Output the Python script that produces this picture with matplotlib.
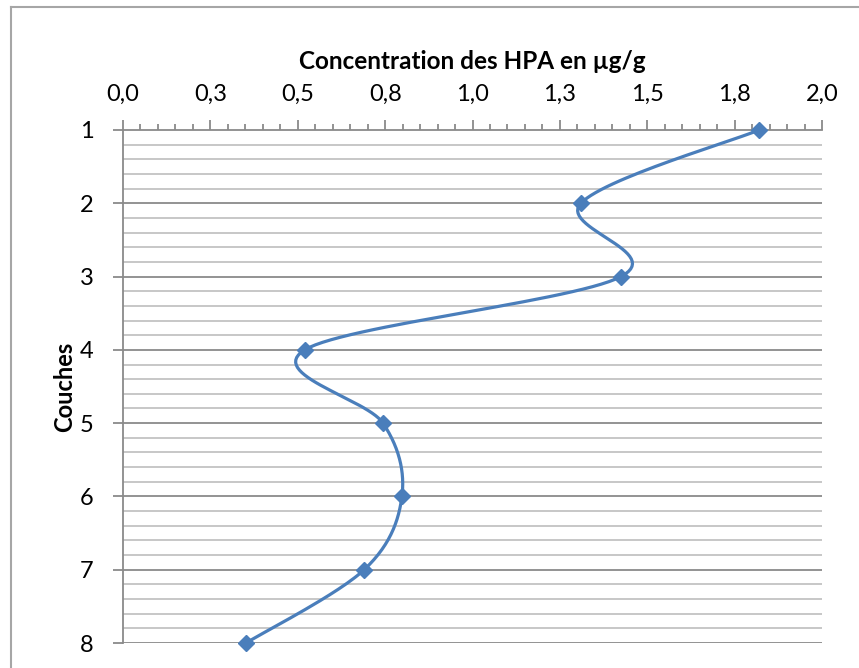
import matplotlib.pyplot as plt
import numpy as np
from matplotlib.lines import Line2D

plt.rcParams['font.family'] = ['Lato', 'DejaVu Sans']

# data
couches = [1, 2, 3, 4, 5, 6, 7, 8]
hpa = [1.82, 1.31, 1.425, 0.52, 0.744, 0.798, 0.69, 0.352]
xticks = [0.0, 0.25, 0.5, 0.75, 1.0, 1.25, 1.5, 1.75, 2.0]
xlabels = ['0,0', '0,3', '0,5', '0,8', '1,0', '1,3', '1,5', '1,8', '2,0']

blue = '#4a7ebb'


def smooth(xs, ys, n=30):
    # Excel-like smoothed line (Catmull-Rom as cubic bezier)
    P = np.column_stack([xs, ys]).astype(float)
    P = np.vstack([P[0], P, P[-1]])
    out = []
    t = np.linspace(0, 1, n)[:, None]
    for i in range(1, len(P) - 2):
        p0, p1, p2, p3 = P[i - 1], P[i], P[i + 1], P[i + 2]
        c1 = p1 + (p2 - p0) / 6
        c2 = p2 - (p3 - p1) / 6
        seg = ((1 - t) ** 3) * p1 + 3 * ((1 - t) ** 2) * t * c1 + 3 * (1 - t) * t ** 2 * c2 + t ** 3 * p2
        out.append(seg)
    out = np.vstack(out)
    return out[:, 0], out[:, 1]


fig = plt.figure(figsize=(8.59, 6.68), dpi=100)
W, H = 859, 668
ax = fig.add_axes([123 / W, 1 - 643 / H, (822 - 123) / W, (643 - 130) / H])

# outer chart border (only top and left visible)
fig.add_artist(Line2D([11 / W, 11 / W], [0, 1 - 7 / H], color='#a6a6a6', lw=1.5, transform=fig.transFigure))
fig.add_artist(Line2D([11 / W, 1], [1 - 7 / H, 1 - 7 / H], color='#a6a6a6', lw=1.5, transform=fig.transFigure))

ax.set_xlim(0, 2.0)
ax.set_ylim(8, 1)

# gridlines
for v in np.arange(1, 8.01, 0.2):
    if abs(v - round(v)) < 1e-6:
        continue
    ax.axhline(v, color='#c3c3c3', lw=1.3, zorder=1)
for v in range(2, 9):
    ax.axhline(v, color='#8a8a8a', lw=1.3, zorder=1)

sx, sy = smooth(hpa, couches)
ax.plot(sx, sy, color=blue, lw=2.3, zorder=3)
ax.plot(hpa, couches, linestyle='none', marker='D', ms=8.5, color=blue, zorder=4, clip_on=False)

ax.xaxis.tick_top()
ax.xaxis.set_label_position('top')
ax.set_xticks(xticks)
ax.set_xticklabels(xlabels)
ax.set_xticks(np.arange(0, 2.001, 0.05), minor=True)
ax.set_yticks(couches)
ax.tick_params(axis='x', which='major', length=7, width=1.3, color='#8a8a8a', labelsize=17, pad=11)
ax.tick_params(axis='x', which='minor', length=4, width=1.3, color='#8a8a8a')
ax.tick_params(axis='y', which='major', length=7, width=1.3, color='#8a8a8a', labelsize=17, pad=14)
ax.tick_params(axis='y', which='minor', length=0)

for s in ['right', 'bottom']:
    ax.spines[s].set_visible(False)
for s in ['left', 'top']:
    ax.spines[s].set_color('#8a8a8a')
    ax.spines[s].set_linewidth(1.3)

ax.set_xlabel('Concentration des HPA en µg/g', fontsize=17.5, fontweight='bold', labelpad=11)
ax.set_ylabel('Couches', fontsize=17, fontweight='bold', labelpad=3)

fig.savefig('out.png', dpi=100)
